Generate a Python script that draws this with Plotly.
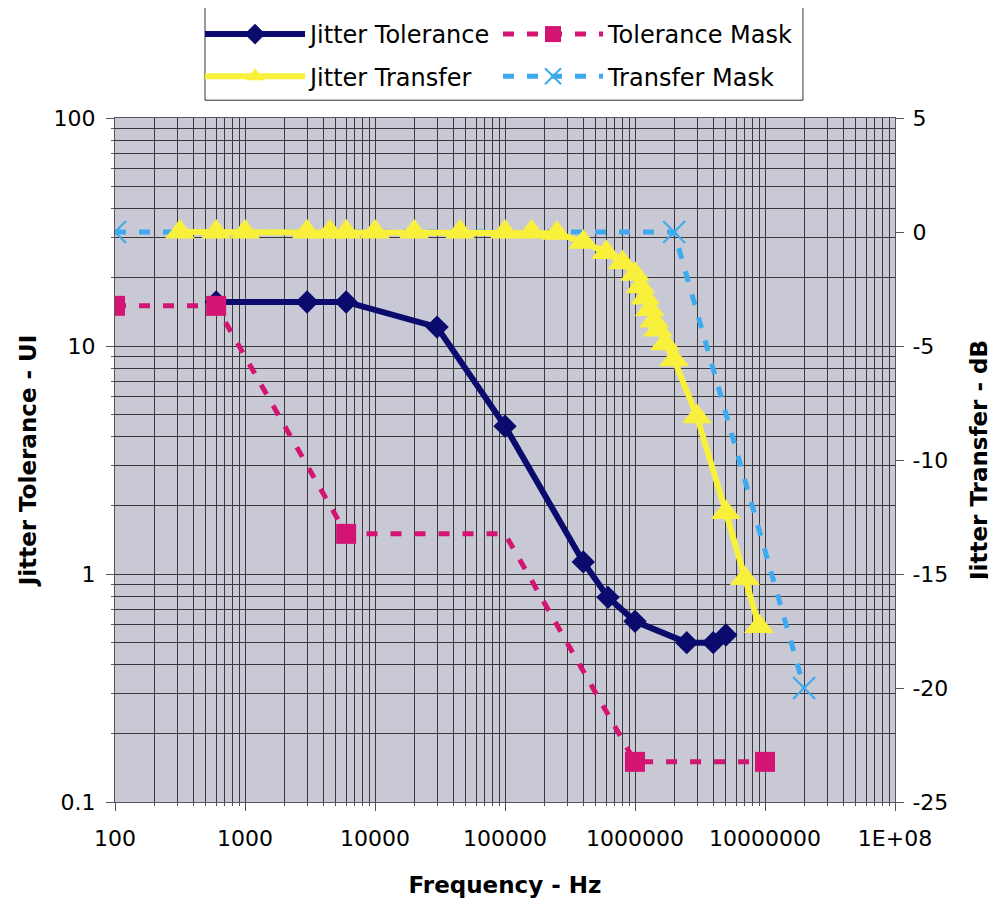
import plotly.graph_objects as go

# ---------------- data ----------------
tol_freq = [600, 3000, 6000, 30000, 100000, 400000, 620000, 1000000, 2500000, 4000000, 5000000]
tol_ui = [15.6, 15.6, 15.6, 12.1, 4.45, 1.13, 0.79, 0.62, 0.50, 0.50, 0.54]

mask_tol_freq = [100, 600, 6000, 100000, 1000000, 10000000]
mask_tol_ui = [15, 15, 1.5, 1.5, 0.15, 0.15]
mask_tol_marker_shown = [True, True, True, False, True, True]

tr_freq = [316, 600, 1000, 3000, 4500, 6000, 10000, 20000, 45000, 100000, 160000,
           250000, 400000, 600000, 800000, 1000000, 1100000, 1200000, 1300000,
           1400000, 1500000, 1700000, 2000000, 3000000, 5000000, 7000000, 9000000]
tr_db = [0, 0, 0, 0, 0, 0, 0, 0, 0, 0, 0,
         -0.05, -0.45, -0.9, -1.35, -1.85, -2.4, -2.9, -3.4,
         -3.9, -4.3, -4.9, -5.6, -8.1, -12.3, -15.2, -17.3]

mask_tr_freq = [100, 2000000, 20000000]
mask_tr_db = [0, 0, -20]

x_tickvals = [100, 1000, 10000, 100000, 1000000, 10000000, 100000000]
x_ticktext = ["100", "1000", "10000", "100000", "1000000", "10000000", "1E+08"]
y_tickvals = [0.1, 1, 10, 100]
y_ticktext = ["0.1", "1", "10", "100"]
y2_tickvals = [5, 0, -5, -10, -15, -20, -25]
y2_ticktext = ["5", "0", "-5", "-10", "-15", "-20", "-25"]

# ---------------- style ----------------
FONT = "DejaVu Sans, Liberation Sans, Arial, sans-serif"
NAVY = "#0B0B6E"
PINK = "#D41472"
YELLOW = "#F8F03A"
SKY = "#3DAAF0"
GRID = "#3a3a3a"
AXIS = "#555555"

minor_x = [m * 10 ** e for e in range(2, 8) for m in range(2, 10)]
minor_y = [m * 10 ** e for e in range(-1, 2) for m in range(2, 10)]

fig = go.Figure()

fig.add_trace(go.Scatter(
    x=tol_freq, y=tol_ui, name="Jitter Tolerance", mode="lines+markers",
    line=dict(color=NAVY, width=6),
    marker=dict(symbol="diamond", size=18, color=NAVY),
    legend="legend", legendgroup="a",
))
fig.add_trace(go.Scatter(
    x=mask_tol_freq, y=mask_tol_ui, name="Tolerance Mask", mode="lines+markers",
    line=dict(color=PINK, width=5, dash="11px,13px"),
    marker=dict(symbol="square", color=PINK, opacity=1,
                line=dict(width=0),
                size=[20 if s else 0 for s in mask_tol_marker_shown]),
    legend="legend2", legendgroup="c",
))
fig.add_trace(go.Scatter(
    x=mask_tr_freq, y=mask_tr_db, name="Transfer Mask", mode="lines+markers",
    yaxis="y2",
    line=dict(color=SKY, width=5, dash="11px,13px"),
    marker=dict(symbol="x-thin", size=22, line=dict(color=SKY, width=2)),
    legend="legend2", legendgroup="d",
))
fig.add_trace(go.Scatter(
    x=tr_freq, y=tr_db, name="Jitter Transfer", mode="lines+markers",
    yaxis="y2",
    line=dict(color=YELLOW, width=6),
    marker=dict(symbol="triangle-up", size=26, color=YELLOW),
    legend="legend", legendgroup="b",
))

axis_font = dict(family=FONT, size=22, color="black")
title_font = dict(family=FONT, size=23, color="black", weight="bold")
legend_font = dict(family=FONT, size=24, color="black")

fig.update_layout(
    width=988, height=898,
    margin=dict(l=107, r=101, t=110, b=104, autoexpand=False),
    paper_bgcolor="white",
    plot_bgcolor="#C9C9D6",
    font=dict(family=FONT, size=22, color="black"),
    showlegend=True,
    xaxis=dict(
        type="log", range=[2, 8],
        tickvals=x_tickvals, ticktext=x_ticktext,
        tickfont=axis_font, ticklabelstandoff=9,
        showgrid=True, gridcolor=GRID, gridwidth=1,
        showline=True, linecolor=AXIS, linewidth=1, mirror=True,
        ticks="outside", ticklen=8, tickcolor=AXIS,
        minor=dict(tickvals=minor_x, showgrid=True, gridcolor=GRID, gridwidth=1,
                   ticks="outside", ticklen=3, tickcolor=AXIS),
        title=dict(text="Frequency - Hz", font=title_font, standoff=26),
        zeroline=False,
    ),
    yaxis=dict(
        type="log", range=[-1, 2],
        tickvals=y_tickvals, ticktext=y_ticktext,
        tickfont=axis_font, ticklabelstandoff=6,
        showgrid=True, gridcolor=GRID, gridwidth=1,
        showline=True, linecolor=AXIS, linewidth=1, mirror=True,
        ticks="outside", ticklen=8, tickcolor=AXIS,
        minor=dict(tickvals=minor_y, showgrid=True, gridcolor=GRID, gridwidth=1,
                   ticks="outside", ticklen=3, tickcolor=AXIS),
        title=dict(text="Jitter Tolerance - UI", font=title_font, standoff=10),
        zeroline=False,
    ),
    yaxis2=dict(
        overlaying="y", side="right", range=[-25, 5],
        tickvals=y2_tickvals, ticktext=y2_ticktext,
        tickfont=axis_font, ticklabelstandoff=4,
        showgrid=False, zeroline=False,
        showline=True, linecolor=AXIS, linewidth=1,
        ticks="outside", ticklen=8, tickcolor=AXIS,
        title=dict(text="Jitter Transfer - dB", font=title_font, standoff=23),
    ),
    legend=dict(
        x=0.109, y=1.155, xanchor="left", yanchor="top",
        orientation="v", bgcolor="rgba(0,0,0,0)",
        font=legend_font, itemwidth=100, tracegroupgap=8,
        traceorder="grouped",
    ),
    legend2=dict(
        x=0.491, y=1.155, xanchor="left", yanchor="top",
        orientation="v", bgcolor="rgba(0,0,0,0)",
        font=legend_font, itemwidth=100, tracegroupgap=8,
        traceorder="grouped",
    ),
    shapes=[dict(
        type="rect", xref="paper", yref="paper",
        x0=0.1154, x1=0.882, y0=1.026, y1=1.164,
        line=dict(color="#333333", width=1), fillcolor="rgba(0,0,0,0)",
    )],
)

fig.write_html("out.html")
